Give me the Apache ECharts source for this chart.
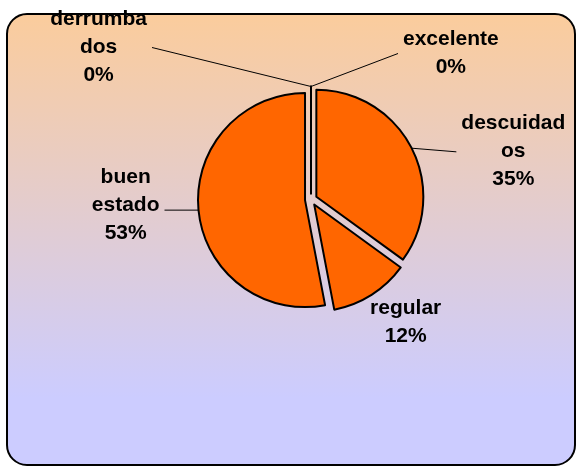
<!DOCTYPE html>
<html>
<head>
<meta charset="utf-8">
<script src="https://cdn.jsdelivr.net/npm/echarts@6/dist/echarts.min.js"></script>
<style>
html, body { margin: 0; padding: 0; background: #fff; }
#chart { width: 577px; height: 467px; }
</style>
</head>
<body>
<div id="chart"></div>
<script>
// estado de las viviendas (%)
var categories = ['excelente', 'descuidados', 'regular', 'buen estado', 'derrumbados'];
var percents = [0, 35, 12, 53, 0];
// how Excel wrapped the names in the labels
var labelLines = [['excelente'], ['descuidad', 'os'], ['regular'], ['buen', 'estado'], ['derrumba', 'dos']];

// label line lengths per slice (first radial segment, then horizontal)
var guideLen = [33, 3, 32, 0, 39];
var guideLen2 = [87, 42, 12, 34, 159];
// small vertical nudges: end of leader line, label block
var lineEndDy = [0, 5, 0, 0, 0];
var labelDy = [0, 4, 0, -5, 0];

var font = { fontFamily: 'Liberation Sans', fontWeight: 'bold', fontSize: 21, lineHeight: 28, color: '#000' };

var chart = echarts.init(document.getElementById('chart'));

var data = categories.map(function (name, i) {
    return {
        name: name,
        value: percents[i],
        selected: true,
        labelLine: { show: i !== 2, length: guideLen[i], length2: guideLen2[i] }
    };
});

chart.setOption({
    backgroundColor: '#fff',
    animation: false,
    graphic: [{
        type: 'rect',
        z: -10,
        shape: { x: 7, y: 14, width: 568, height: 451, r: 20 },
        style: {
            fill: {
                type: 'linear', x: 0, y: 0, x2: 0, y2: 1,
                colorStops: [
                    { offset: 0, color: '#FBCC9C' },
                    { offset: 0.85, color: '#CCCCFF' },
                    { offset: 1, color: '#CCCCFF' }
                ]
            },
            stroke: '#000',
            lineWidth: 2
        }
    }],
    series: [{
        type: 'pie',
        center: [311, 199.5],
        radius: 107,
        startAngle: 90,
        clockwise: true,
        selectedMode: 'multiple',
        selectedOffset: 6,
        avoidLabelOverlap: false,
        emphasis: { disabled: true },
        itemStyle: { color: '#FF6600', borderColor: '#000', borderWidth: 2 },
        select: { itemStyle: { color: '#FF6600', borderColor: '#000', borderWidth: 2 } },
        label: {
            show: true,
            position: 'outside',
            distanceToLabelLine: 5,
            fontFamily: font.fontFamily,
            fontWeight: font.fontWeight,
            fontSize: font.fontSize,
            lineHeight: font.lineHeight,
            color: font.color,
            formatter: function (p) {
                var lines = labelLines[p.dataIndex].concat([Math.round(p.percent) + '%']);
                return lines.map(function (l) { return '{c|' + l + '}'; }).join('\n');
            },
            rich: {
                c: {
                    align: 'center',
                    fontFamily: font.fontFamily,
                    fontWeight: font.fontWeight,
                    fontSize: font.fontSize,
                    lineHeight: font.lineHeight,
                    color: font.color
                }
            }
        },
        labelLine: { lineStyle: { color: '#000', width: 1 } },
        labelLayout: function (p) {
            var i = p.dataIndex;
            var out = { dy: labelDy[i] };
            var pts = p.labelLinePoints;
            if (pts && pts.length === 3) {
                var p0 = pts[0], p2 = [pts[2][0], pts[2][1] + lineEndDy[i]];
                // the first zero slice sits at the top; Excel puts its label on the right
                if (i === 0 && p2[0] < p0[0]) {
                    p2 = [2 * p0[0] - p2[0], p2[1]];
                    out.dx = p2[0] + 5 - p.labelRect.x;
                }
                // Excel draws straight leader lines
                out.labelLinePoints = [p0, p2];
            }
            if (i === 2) {
                out.align = 'center';
            }
            return out;
        },
        data: data
    }]
});
</script>
</body>
</html>
